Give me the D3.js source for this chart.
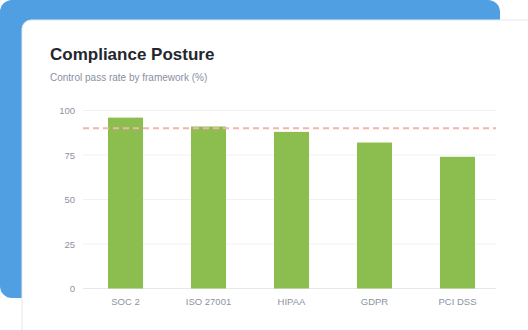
<!DOCTYPE html>
<html>
<head>
<meta charset="utf-8">
<script src="https://cdn.jsdelivr.net/npm/d3@7"></script>
<style>
  html, body { margin: 0; padding: 0; background: #fff; }
  svg { display: block; font-family: "Helvetica Neue", Arial, "Liberation Sans", sans-serif; }
</style>
</head>
<body>
<svg width="528" height="330"></svg>
<script>
// Chart data
const frameworks = ["SOC 2", "ISO 27001", "HIPAA", "GDPR", "PCI DSS"];
const passRates = [96, 91, 88, 82, 74];
const yTicks = [0, 25, 50, 75, 100];
const target = 90;

const svg = d3.select("svg");

// backdrop + card
svg.append("rect")
   .attr("x", 0).attr("y", 0)
   .attr("width", 500).attr("height", 298)
   .attr("rx", 12)
   .attr("fill", "#4f9fe2");

svg.append("rect")
   .attr("x", 22).attr("y", 20)
   .attr("width", 540).attr("height", 340)
   .attr("rx", 9)
   .attr("fill", "#fff")
   .attr("stroke", "#e3e8ef")
   .attr("stroke-width", 1);

svg.append("text")
   .attr("x", 50).attr("y", 60)
   .attr("font-size", 17).attr("font-weight", 700)
   .attr("fill", "#23262d")
   .text("Compliance Posture");

svg.append("text")
   .attr("x", 50).attr("y", 81)
   .attr("font-size", 10)
   .attr("fill", "#8a8fa3")
   .text("Control pass rate by framework (%)");

// scales
const x = d3.scaleBand()
   .domain(frameworks)
   .range([85, 498])
   .paddingInner(0.578)
   .paddingOuter(0.277);

const y = d3.scaleLinear()
   .domain([0, 100])
   .range([288.5, 110.5]);

// grid lines
svg.append("g")
   .selectAll("line")
   .data(yTicks)
   .enter()
   .append("line")
   .attr("x1", 83).attr("x2", 496)
   .attr("y1", d => y(d)).attr("y2", d => y(d))
   .attr("stroke", d => d === 0 ? "#e6e8ec" : "#f0f1f3")
   .attr("stroke-width", 1);

// y axis labels
const yAxis = d3.axisLeft(y).tickValues(yTicks).tickSize(0).tickPadding(8);
svg.append("g")
   .attr("transform", "translate(83,0)")
   .call(yAxis)
   .call(g => g.select(".domain").remove())
   .call(g => g.selectAll("text")
      .attr("font-size", 9.5)
      .attr("fill", "#8d92a3")
      .attr("font-family", "inherit"));

// bars
svg.append("g")
   .selectAll("rect")
   .data(passRates)
   .enter()
   .append("rect")
   .attr("x", (d, i) => x(frameworks[i]))
   .attr("y", d => y(d))
   .attr("width", x.bandwidth())
   .attr("height", d => y(0) - y(d))
   .attr("fill", "#8bbd4f");

// target line
svg.append("line")
   .attr("x1", 83).attr("x2", 496)
   .attr("y1", y(target)).attr("y2", y(target))
   .attr("stroke", "#f4b4ae")
   .attr("stroke-width", 2)
   .attr("stroke-dasharray", "6,4");

// x axis labels
const xAxis = d3.axisBottom(x).tickSize(0).tickPadding(10);
svg.append("g")
   .attr("transform", `translate(0,${y(0)})`)
   .call(xAxis)
   .call(g => g.select(".domain").remove())
   .call(g => g.selectAll("text")
      .attr("font-size", 9.5)
      .attr("fill", "#8d92a3")
      .attr("font-family", "inherit"));
</script>
</body>
</html>
